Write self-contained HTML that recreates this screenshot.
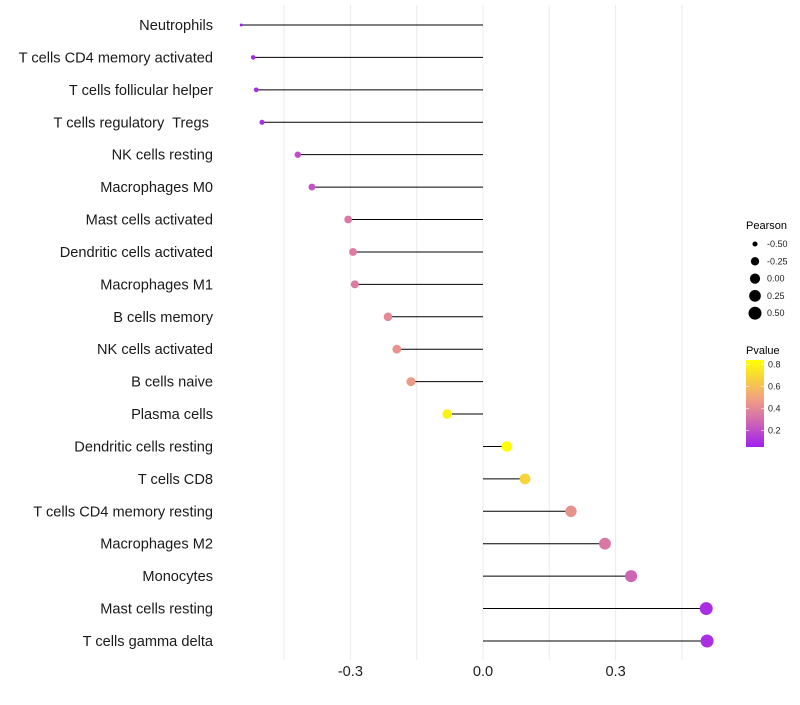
<!DOCTYPE html>
<html><head><meta charset="utf-8"><style>
body{margin:0;background:#fff;font-family:"Liberation Sans",sans-serif}
text{white-space:pre}
</style></head><body>
<svg id="c" width="800" height="700" xmlns="http://www.w3.org/2000/svg" font-family="Liberation Sans, sans-serif"></svg>
<script>
const cells=["Neutrophils","T cells CD4 memory activated","T cells follicular helper","T cells regulatory  Tregs ","NK cells resting","Macrophages M0","Mast cells activated","Dendritic cells activated","Macrophages M1","B cells memory","NK cells activated","B cells naive","Plasma cells","Dendritic cells resting","T cells CD8","T cells CD4 memory resting","Macrophages M2","Monocytes","Mast cells resting","T cells gamma delta"];
const pearson=[-0.547,-0.52,-0.513,-0.5,-0.419,-0.387,-0.305,-0.294,-0.29,-0.215,-0.195,-0.163,-0.081,0.054,0.095,0.199,0.276,0.335,0.505,0.507];
const pvalue=[0.05,0.08,0.09,0.1,0.2,0.22,0.35,0.38,0.37,0.45,0.5,0.55,0.8,0.84,0.72,0.5,0.35,0.28,0.1,0.1];
const xTicks=[-0.3,0,0.3];
const xTickLabels=["-0.3","0.0","0.3"];
const gridVals=[-0.45,-0.3,-0.15,0,0.15,0.3,0.45];
const sizeBreaks=[-0.5,-0.25,0,0.25,0.5];
const sizeLabels=["-0.50","-0.25","0.00","0.25","0.50"];
const pBreaks=[0.2,0.4,0.6,0.8];

const svg=document.getElementById('c');const NS="http://www.w3.org/2000/svg";
function mk(t,a,p){const e=document.createElementNS(NS,t);for(const k in a)e.setAttribute(k,a[k]);(p||svg).appendChild(e);return e;}
const x=v=>483+v*442;
const y=i=>25+i*32.42;
const r=v=>1.5+5*Math.sqrt(Math.max(0,(v+0.547)/1.054));
function lerp(a,b,t){return a.map((v,i)=>Math.round(v+(b[i]-v)*t));}
const stops=[[160,32,240],[214,112,170],[240,160,130],[255,255,0]];
function col(p){let t=(p-0.05)/0.79;t=Math.max(0,Math.min(1,t));const s=t*3;const i=Math.min(2,Math.floor(s));const c=lerp(stops[i],stops[i+1],s-i);return `rgb(${c})`;}

gridVals.forEach(g=>{const l=mk('line',{x1:x(g),x2:x(g),y1:5,y2:660,stroke:'#ebebeb','stroke-width':1});
});
xTicks.forEach((t,i)=>{const e=mk('text',{x:x(t),y:676,'font-size':14.6,'text-anchor':'middle',fill:'#222'});e.textContent=xTickLabels[i];
});
cells.forEach((c,i)=>{
const lb=mk('text',{x:213,y:y(i)+5,'font-size':14.6,'text-anchor':'end',fill:'#1a1a1a'});lb.textContent=c;

const ln=mk('line',{x1:x(0),x2:x(pearson[i]),y1:y(i),y2:y(i),stroke:'#000','stroke-width':1});

const d=mk('circle',{cx:x(pearson[i]),cy:y(i),r:r(pearson[i]),fill:col(pvalue[i])});

});
const g=mk('g',{});
let t=mk('text',{x:746,y:229,'font-size':11,fill:'#000'},g);t.textContent='Pearson';
sizeBreaks.forEach((s,i)=>{const yy=244+i*17.3;
const c=mk('circle',{cx:755,cy:yy,r:r(s),fill:'#000'},g);
const tx=mk('text',{x:767,y:yy+3,'font-size':9,fill:'#222'},g);tx.textContent=sizeLabels[i];});
t=mk('text',{x:746,y:354,'font-size':11,fill:'#000'},g);t.textContent='Pvalue';
const defs=mk('defs',{});const lg=mk('linearGradient',{id:'pg',x1:0,y1:1,x2:0,y2:0},defs);
[0,0.33,0.55,1].forEach((o,i)=>mk('stop',{offset:o,'stop-color':`rgb(${stops[i]})`},lg));
const py=p=>447-(p-0.05)*(87/0.79);
const bar=mk('rect',{x:746,y:360,width:18,height:87,fill:'url(#pg)'},g);
pBreaks.forEach(p=>{mk('line',{x1:746,x2:749,y1:py(p),y2:py(p),stroke:'#fff','stroke-width':0.6},g);mk('line',{x1:761,x2:764,y1:py(p),y2:py(p),stroke:'#fff','stroke-width':0.6},g);
const tx=mk('text',{x:768,y:py(p)+3,'font-size':9,fill:'#222'},g);tx.textContent=p.toFixed(1);});
</script>
</body></html>
